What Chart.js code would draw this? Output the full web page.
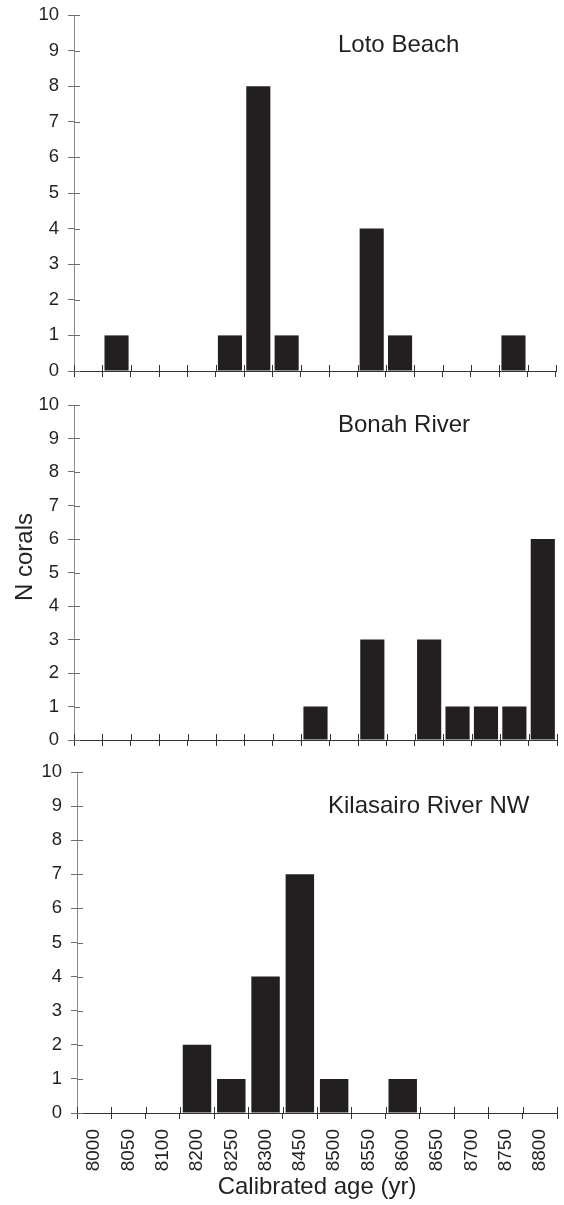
<!DOCTYPE html>
<html><head><meta charset="utf-8">
<script src="https://cdn.jsdelivr.net/npm/chart.js@4/dist/chart.umd.min.js"></script>
<style>
html,body{margin:0;padding:0;background:#fff;width:564px;height:1205px;overflow:hidden;}
canvas{position:absolute;left:0;}
#ylab{position:absolute;left:24px;top:557px;transform:translate(-50%,-50%) rotate(-90deg);font:24px "Liberation Sans",Arial,sans-serif;color:#231f20;white-space:nowrap;}
</style></head><body>
<canvas id="c1" width="564" height="385" style="top:0px"></canvas>
<canvas id="c2" width="564" height="365" style="top:390px"></canvas>
<canvas id="c3" width="564" height="445" style="top:760px"></canvas>
<div id="ylab">N corals</div>
<script>
// ---- data ----
const binsFull = ["8000","8050","8100","8150","8200","8250","8300","8350","8400","8450","8500","8550","8600","8650","8700","8750","8800"];
const lotoBeach = [0,1,0,0,0,1,8,1,0,0,4,1,0,0,0,1,0];
const bonahRiver = [0,0,0,0,0,0,0,0,1,0,3,0,3,1,1,1,6];
const kilasairoLabels = ["8000","8050","8100","8200","8250","8300","8450","8500","8550","8600","8650","8700","8750","8800"];
const kilasairoNW = [0,0,0,2,1,4,7,1,0,1,0,0,0,0];
const yTicksMax = 10;
const titleTop = "Loto Beach";
const titleMid = "Bonah River";
const titleBot = "Kilasairo River NW";
const xAxisTitle = "Calibrated age (yr)";

const FONT = '"Liberation Sans", Arial, Helvetica, sans-serif';
const INK = '#231f20';

const innerTicks = {
  id: 'innerTicks',
  afterDraw(chart, args, opts) {
    const {ctx} = chart;
    const x = chart.scales.x, y = chart.scales.y;
    const len = opts.len || 6;
    ctx.save();
    ctx.lineWidth = 1;
    ctx.strokeStyle = opts.yColor;
    ctx.beginPath();
    y.ticks.forEach(t => {
      const py = Math.round(y.getPixelForValue(t.value)) + 0.5;
      ctx.moveTo(y.right, py); ctx.lineTo(y.right + len, py);
    });
    ctx.stroke();
    ctx.strokeStyle = opts.xColor;
    ctx.beginPath();
    const n = x.ticks.length;
    for (let i = 0; i <= n; i++) {
      const px = Math.round(x.getPixelForValue(i - 0.5)) + 0.5;
      ctx.moveTo(px, x.top); ctx.lineTo(px, x.top - len);
    }
    ctx.stroke();
    ctx.restore();
  }
};

const panelTitle = {
  id: 'panelTitle',
  afterDraw(chart, args, opts) {
    const {ctx} = chart;
    ctx.save();
    ctx.font = '24px ' + FONT;
    ctx.fillStyle = INK;
    ctx.textAlign = 'left';
    ctx.textBaseline = 'middle';
    ctx.fillText(opts.text, opts.x, opts.y);
    ctx.restore();
  }
};

function makeChart(id, labels, values, title, cfg) {
  return new Chart(document.getElementById(id), {
    type: 'bar',
    data: {labels: labels, datasets: [{data: values, backgroundColor: INK, borderWidth: 0,
      barPercentage: cfg.barPct, categoryPercentage: 1}]},
    options: {
      responsive: false, animation: false, devicePixelRatio: 1,
      layout: {padding: {top: cfg.top, right: cfg.right, left: 0, bottom: 0}},
      plugins: {legend: {display: false}, tooltip: {enabled: false},
        panelTitle: {text: title, x: cfg.tx, y: cfg.ty},
        innerTicks: {len: 6, yColor: '#6d6d6d', xColor: '#333'}},
      scales: {
        x: {
          offset: true,
          grid: {drawOnChartArea: false, tickLength: 6, color: '#333', offset: true},
          border: {color: '#333', width: 1},
          ticks: {display: cfg.showX, maxRotation: 90, minRotation: 90, padding: 10,
            font: {family: FONT, size: 19}, color: INK, autoSkip: false},
          title: {display: cfg.showX, text: xAxisTitle, color: INK,
            font: {family: FONT, size: 24}, padding: {top: 4, bottom: 3}},
          afterFit(s) { s.height = cfg.xh; s.paddingLeft = 0; s.paddingRight = 0; }
        },
        y: {
          min: 0, max: yTicksMax,
          ticks: {stepSize: 1, padding: 9, font: {family: FONT, size: 18.5}, color: INK},
          grid: {drawOnChartArea: false, tickLength: 6, color: '#6d6d6d'},
          border: {color: '#8a8a8a', width: 1},
          afterFit(s) { s.width = cfg.yw; s.paddingTop = 0; s.paddingBottom = 0; }
        }
      }
    },
    plugins: [innerTicks, panelTitle]
  });
}

makeChart('c1', binsFull, lotoBeach, titleTop,
  {barPct: 0.85, top: 15, right: 8, xh: 14, yw: 74, showX: false, tx: 338, ty: 45});
makeChart('c2', binsFull, bonahRiver, titleMid,
  {barPct: 0.85, top: 15, right: 7, xh: 15, yw: 74, showX: false, tx: 338, ty: 35});
makeChart('c3', kilasairoLabels, kilasairoNW, titleBot,
  {barPct: 0.83, top: 12, right: 7, xh: 92, yw: 77, showX: true, tx: 328, ty: 46});
</script>
</body></html>
